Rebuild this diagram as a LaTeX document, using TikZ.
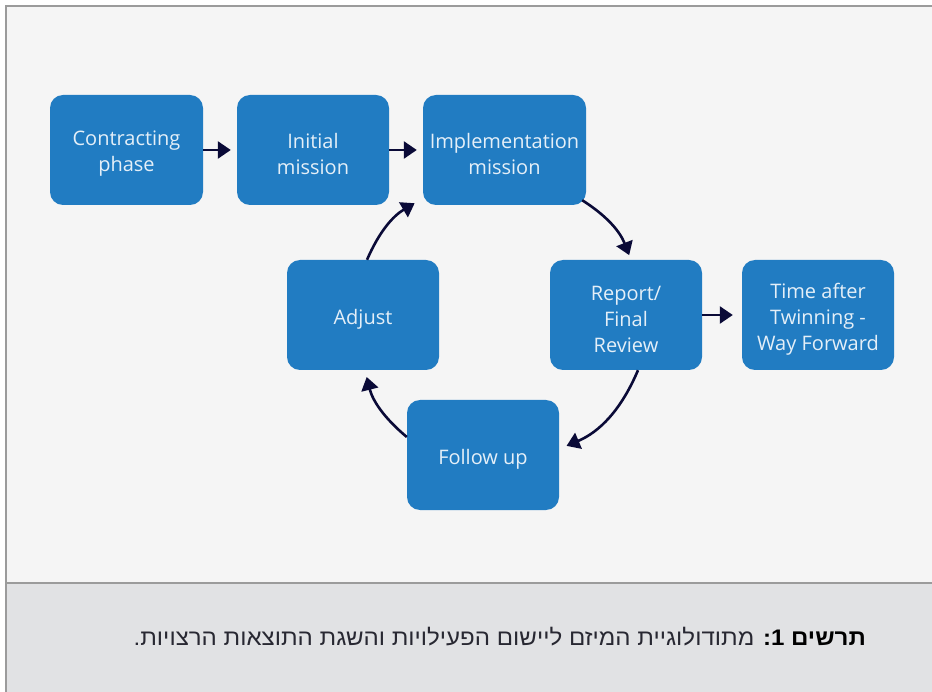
\documentclass[tikz,border=0pt]{standalone}
\usepackage{fontspec}
\setmainfont{Open Sans}
\newfontfamily\hebfont[Script=Hebrew,FakeStretch=1.07]{Liberation Sans}
\TeXXeTstate=1
\usetikzlibrary{arrows.meta}
\definecolor{boxblue}{RGB}{33,124,194}
\definecolor{arrowc}{RGB}{10,10,55}
\definecolor{bgpanel}{RGB}{245,245,245}
\definecolor{capbg}{RGB}{225,226,228}
\definecolor{framec}{RGB}{155,155,155}
\definecolor{captxt}{RGB}{40,40,50}
\definecolor{capbold}{RGB}{15,15,50}
\begin{document}
\begin{tikzpicture}[x=1pt,y=-1pt,
  stepbox/.style={fill=boxblue, rounded corners=13pt, minimum width=153pt, minimum height=110pt, inner sep=0pt},
  boxtext/.style={text=white!88!boxblue, font=\fontsize{20}{26}\selectfont, align=center, inner sep=0pt, yshift=-4pt},
  conn/.style={draw=arrowc, line width=2.6pt, -{Triangle[length=13pt,width=17pt]}}]
\useasboundingbox (0,0) rectangle (932,692);
\fill[white] (0,0) rectangle (932,692);
\fill[bgpanel] (6,6) rectangle (932,583);
\fill[capbg] (6,583) rectangle (932,692);
\draw[framec, line width=1.6pt] (6,692) -- (6,6) -- (932,6);
\draw[framec, line width=1.4pt] (6,583) -- (932,583);

\node[stepbox, label={[boxtext]center:{Contracting\\phase}}] (cp) at (126.5,150) {};
\node[stepbox, minimum width=152pt, label={[boxtext]center:{Initial\\mission}}] (im) at (313,150) {};
\node[stepbox, minimum width=163pt, label={[boxtext]center:{Implementation\\mission}}] (impl) at (504.5,150) {};
\node[stepbox, minimum width=152pt, label={[boxtext]center:{Report/\\Final\\Review}}] (rep) at (626,315) {};
\node[stepbox, minimum width=152pt, label={[boxtext]center:{Time after\\Twinning -\\Way Forward}}] (time) at (818,315) {};
\node[stepbox, minimum width=152pt, label={[boxtext]center:{Adjust}}] (adj) at (363,315) {};
\node[stepbox, minimum width=152pt, label={[boxtext]center:{Follow up}}] (fu) at (483,455) {};

\draw[conn, shorten >=6pt] (cp.east) -- (im.west);
\draw[conn, shorten >=6pt] (im.east) -- (impl.west);
\draw[conn, shorten >=9pt] (rep.east) -- (time.west);

\draw[conn, shorten >=5pt] ([xshift=-4pt,yshift=5pt]impl.south east) to[bend left=18] ([xshift=5pt]rep.north);
\draw[conn, shorten >=8pt] ([xshift=12pt]rep.south) to[bend left=22] ([yshift=6pt]fu.east);
\draw[conn, shorten >=7pt] ([yshift=18pt]fu.west) to[bend left=18] ([xshift=2pt]adj.south);
\draw[conn, shorten >=6pt] ([xshift=4pt]adj.north) to[bend left=18] ([xshift=-3pt,yshift=5pt]impl.south west);

\node[anchor=east, inner sep=0pt, font=\hebfont\fontsize{22.5}{26}\selectfont, text=captxt] (cap) at (866,637)
  {\beginR\textcolor{capbold}{\textbf{תרשים 1:}} מתודולוגיית המיזם ליישום הפעילויות והשגת התוצאות הרצויות.\endR};
\end{tikzpicture}
\end{document}
